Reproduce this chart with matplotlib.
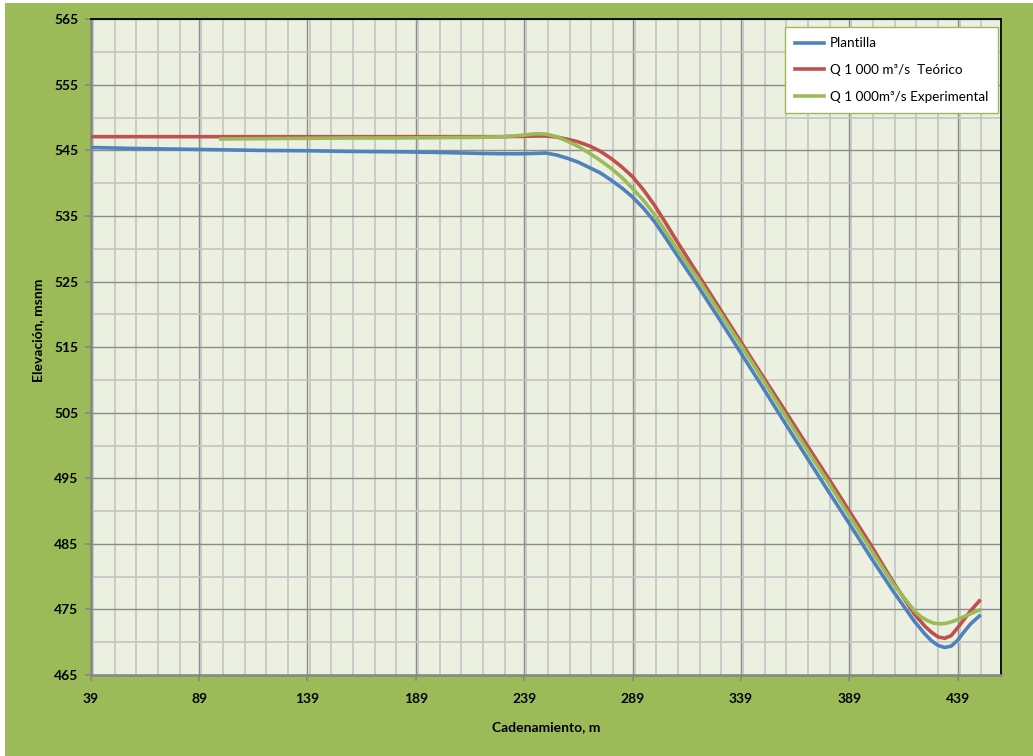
import numpy
import matplotlib
matplotlib.use("Agg")
import matplotlib.pyplot as plt
from matplotlib.patches import Rectangle
from matplotlib.ticker import MultipleLocator

plt.rcParams['font.family'] = ['Lato', 'DejaVu Sans']

################# DATA ##################################################################
# Plantilla (canal bottom)
xPlantilla = [39, 59, 79, 99, 119, 139, 159, 179, 199, 219, 229, 239, 244, 249, 254, 259,
              264, 269, 274, 279, 284, 289, 294, 299, 304, 309, 319, 329, 339, 349, 359,
              369, 379, 389, 399, 409, 419, 424, 427, 430, 433, 436, 439, 442, 445, 449]
yPlantilla = [545.45, 545.3, 545.2, 545.1, 545.0, 544.95, 544.85, 544.8, 544.7, 544.55, 544.5,
              544.5, 544.55, 544.6, 544.3, 543.8, 543.2, 542.4, 541.6, 540.5, 539.3, 537.9,
              536.2, 534.2, 531.8, 529.3, 524.4, 519.3, 514.1, 508.9, 503.6, 498.4, 493.2,
              488.1, 482.9, 477.9, 473.2, 471.2, 470.2, 469.5, 469.2, 469.4, 470.3, 471.6,
              472.8, 474.0]

# Q 1 000 m3/s theoretical
xTeorico = [39, 59, 79, 99, 119, 139, 159, 179, 199, 219, 229, 239, 244, 249, 254, 259,
            264, 269, 274, 279, 284, 289, 294, 299, 304, 309, 319, 329, 339, 349, 359,
            369, 379, 389, 399, 409, 419, 424, 427, 430, 433, 436, 439, 442, 445, 449]
yTeorico = [547.1, 547.1, 547.1, 547.1, 547.1, 547.1, 547.1, 547.1, 547.1, 547.1, 547.1,
            547.15, 547.2, 547.2, 547.05, 546.7, 546.3, 545.7, 544.9, 543.8, 542.5, 541.0,
            539.0, 536.7, 534.1, 531.4, 526.2, 521.0, 515.8, 510.6, 505.5, 500.3, 495.2,
            490.0, 484.8, 479.3, 474.3, 472.4, 471.5, 470.8, 470.6, 471.0, 472.2, 473.5,
            474.8, 476.3]

# Q 1 000 m3/s experimental
xExperimental = [99, 119, 139, 159, 179, 199, 219, 229, 234, 239, 244, 249, 254, 259, 264,
                 269, 274, 279, 284, 289, 294, 299, 304, 309, 319, 329, 339, 349, 359, 369,
                 379, 389, 399, 409, 419, 422, 425, 428, 431, 434, 437, 440, 444, 449]
yExperimental = [546.75, 546.8, 546.85, 546.9, 546.9, 546.95, 547.0, 547.1, 547.2, 547.35,
                 547.55, 547.5, 547.1, 546.4, 545.6, 544.6, 543.5, 542.3, 540.9, 539.2,
                 537.4, 535.3, 532.8, 530.2, 525.5, 520.4, 515.3, 510.1, 504.8, 499.6,
                 494.5, 489.3, 484.1, 479.0, 474.8, 473.9, 473.3, 472.9, 472.8, 472.9,
                 473.2, 473.6, 474.2, 474.9]

seriesNames = ["Plantilla", "Q 1 000 m³/s  Teórico", "Q 1 000m³/s Experimental"]
seriesColors = ["#4F81BD", "#C0504D", "#9BBB59"]

xTicks = [39, 89, 139, 189, 239, 289, 339, 389, 439]
yTicks = [465, 475, 485, 495, 505, 515, 525, 535, 545, 555, 565]

######## FIGURE ##########################################################################
fig = plt.figure(figsize=(10.33, 7.56), dpi=100, facecolor="white")
# green chart area (small white strip left and top like the original)
fig.patches.append(Rectangle((5 / 1033, 0), 1, 1 - 3 / 756, transform=fig.transFigure,
                             facecolor="#9BBB59", edgecolor="none", zorder=-10))

ax = fig.add_axes([90.7 / 1033, 1 - 675 / 756, (1001 - 90.7) / 1033, (675 - 19.3) / 756])
ax.set_facecolor("#EBF0E0")

ax.plot(xPlantilla, yPlantilla, color=seriesColors[0], linewidth=2.6, label=seriesNames[0],
        solid_joinstyle="round", zorder=3)
ax.plot(xTeorico, yTeorico, color=seriesColors[1], linewidth=2.6, label=seriesNames[1],
        solid_joinstyle="round", zorder=3)
ax.plot(xExperimental, yExperimental, color=seriesColors[2], linewidth=2.6, label=seriesNames[2],
        solid_joinstyle="round", zorder=3)

ax.set_xlim(39, 459)
ax.set_ylim(465, 565)
ax.set_xticks(xTicks)
ax.set_yticks(yTicks)
ax.xaxis.set_minor_locator(MultipleLocator(10))
ax.yaxis.set_minor_locator(MultipleLocator(5))

# grid
ax.grid(True, which="major", color="#8C8C8C", linewidth=1.0, zorder=1)
ax.grid(True, which="minor", color="#C4C4C4", linewidth=1.2, zorder=0)
ax.set_axisbelow(True)

# spines
ax.spines["left"].set_color("#868686")
ax.spines["bottom"].set_color("#868686")
ax.spines["left"].set_linewidth(1.8)
ax.spines["bottom"].set_linewidth(1.8)
ax.spines["top"].set_color("black")
ax.spines["right"].set_color("black")
ax.spines["top"].set_linewidth(1.3)
ax.spines["right"].set_linewidth(1.3)

ax.tick_params(which="major", direction="out", length=4, width=1.2, color="#868686",
               labelsize=10, labelcolor="black")
ax.tick_params(axis="x", pad=9)
ax.tick_params(axis="y", pad=5)
ax.tick_params(which="minor", length=0)
for lbl in ax.get_xticklabels() + ax.get_yticklabels():
    lbl.set_fontweight("bold")

ax.set_xlabel("Cadenamiento, m", fontsize=10, fontweight="bold")
ax.set_ylabel("Elevación, msnm", fontsize=10, fontweight="bold")
ax.xaxis.set_label_coords(0.5, -(726.7 - 675) / 656)
ax.yaxis.set_label_coords((38 - 90.7) / 910.3, (675 - 330) / 656)
ax.xaxis.label.set_va("center")
ax.yaxis.label.set_va("center")

leg = ax.legend(loc="upper right", bbox_to_anchor=(0.997, 0.988), borderaxespad=0,
                fontsize=9.7, frameon=True, fancybox=False, handlelength=2.2,
                labelspacing=1.1, borderpad=0.75, handletextpad=0.4)
leg.get_frame().set_edgecolor("#9BBB59")
leg.get_frame().set_linewidth(1.0)
leg.get_frame().set_facecolor("white")
leg.get_frame().set_alpha(1)

fig.savefig("out.png", dpi=100, facecolor=fig.get_facecolor())
